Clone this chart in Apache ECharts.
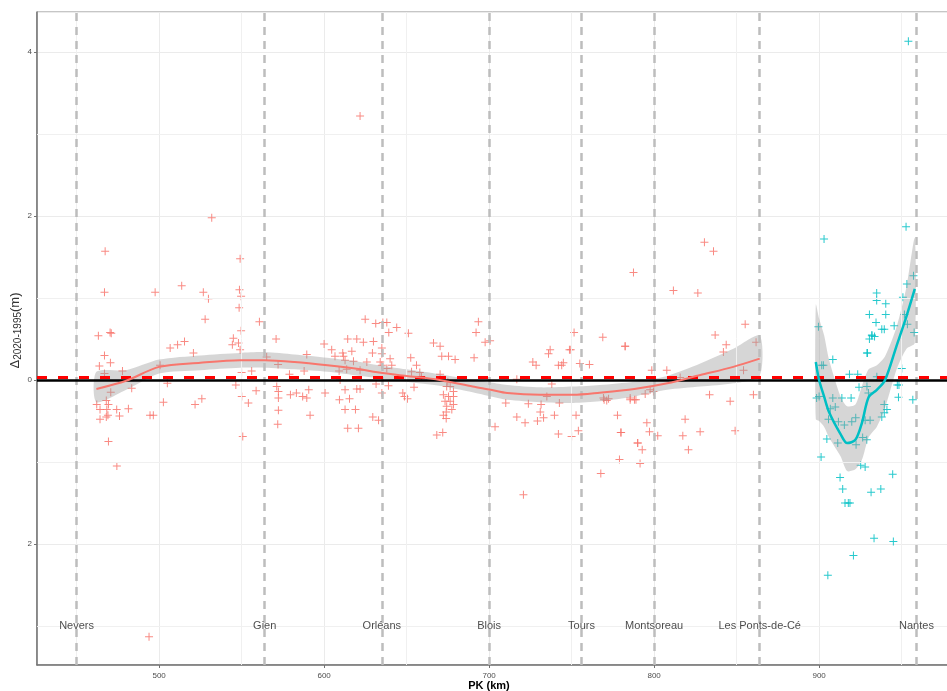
<!DOCTYPE html>
<html><head><meta charset="utf-8">
<script src="https://cdn.jsdelivr.net/npm/echarts@6/dist/echarts.min.js"></script>
<style>html,body{margin:0;padding:0;background:#fff}#c{width:947px;height:691px}</style>
</head><body><div id="c"></div>
<script>
// ---------- data ----------
const xTicks = [500, 600, 700, 800, 900];
const xMinorGrid = [450, 550, 650, 750, 850, 950];
const yTicks = [-2, 0, 2, 4];
const yTickLabels = ['2', '0', '2', '4'];
const yMinorGrid = [-3, -1, 1, 3];
const cities = ['Nevers', 'Gien', 'Orléans', 'Blois', 'Tours', 'Montsoreau', 'Les Ponts-de-Cé', 'Nantes'];
const cityPK = [450, 564, 635, 700, 756, 800, 864, 959];
const cityLabelY = -3;
const zeroLevel = 0;
const meanLevel = 0.03;

const redPoints = [
 [467.3,1.57],[466.9,1.07],[531.9,1.98],[549.1,1.48],[497.6,1.07],[513.7,1.15],[526.8,1.07],[529.9,0.99],[548.7,1.10],[549.7,1.02],[548.5,0.88],[527.9,0.74],[549.7,0.60],[560.8,0.71],[463.2,0.54],[470.3,0.58],[471,0.57],[466.9,0.30],[463.8,0.17],[470.5,0.21],[466.9,0.08],[477.8,0.11],[506.7,0.39],[511.2,0.43],[515.4,0.47],[520.8,0.33],[500.6,0.18],[545,0.51],[544.4,0.43],[548.1,0.45],[549.1,0.37],[570.9,0.50],[565.2,0.28],[572.1,0.19],[556.1,0.11],[550,0.09],[589.5,0.31],[600,0.44],[604.6,0.37],[606.6,0.29],[611.3,0.33],[614.3,0.50],[612.7,0.24],[587.9,0.11],[609.1,0.11],[579,0.07],
 [462.2,-0.30],[464.2,-0.36],[469.3,-0.30],[468.3,-0.36],[464.2,-0.48],[469,-0.43],[468,-0.45],[469.3,-0.75],[474.3,-0.36],[476,-0.44],[481.4,-0.35],[483.4,-0.10],[470.7,-0.15],[468,-0.25],[494.5,-0.43],[496.5,-0.43],[502.6,-0.27],[505,-0.04],[521.8,-0.30],[525.9,-0.23],[546.5,-0.06],[550.1,-0.2],[554.1,-0.28],[550.7,-0.69],[558.8,-0.13],[571.3,-0.08],[572.3,-0.14],[572.3,-0.22],[572.3,-0.37],[571.9,-0.54],[579.6,-0.18],[583.2,-0.16],[587,-0.2],[589.5,-0.22],[591.5,-0.43],[600.6,-0.16],[609.3,-0.24],[612.7,-0.12],[612.7,-0.36],[614.3,-0.59],[590.7,-0.12],[474.4,-1.05],[493.9,-3.13],[621.8,3.22],
 [624.9,0.74],[631.3,0.69],[635.6,0.70],[638,0.70],[639.2,0.58],[644,0.64],[651.1,0.57],[619.8,0.50],[623.8,0.46],[629.9,0.47],[616.8,0.35],[629.3,0.33],[635,0.39],[635,0.32],[640,0.26],[617.8,0.23],[625.9,0.22],[634,0.22],[635,0.18],[641,0.18],[638,0.14],[611.7,0.29],[613.7,0.13],[621.8,0.12],[652.5,0.27],[656,0.18],[653,0.10],[658,0.09],[659,0.04],[666.3,0.45],[670.3,0.41],[671.3,0.29],[675.4,0.29],[679.4,0.25],[690.9,0.27],[693.5,0.71],[692.1,0.58],[697.6,0.46],[700.6,0.48],[670.3,0.07],
 [674.3,-0.08],[676.4,-0.08],[678.4,-0.14],[672.3,-0.18],[675.4,-0.2],[678.4,-0.2],[673.3,-0.26],[676.4,-0.26],[674.3,-0.32],[678.4,-0.30],[674,-0.39],[677.4,-0.36],[672.3,-0.43],[674,-0.47],[668.3,-0.67],[671.9,-0.64],[675,-0.02],
 [619.8,-0.11],[621.8,-0.11],[615.4,-0.23],[631.5,-0.05],[635,-0.16],[639,-0.07],[647.7,-0.16],[648.7,-0.2],[650.5,-0.23],[654.5,-0.09],[619,-0.36],[629.5,-0.45],[633,-0.49],[620.8,-0.59],[609.7,0.0],
 [703.6,-0.57],[710.1,-0.28],[716.8,-0.45],[721.8,-0.52],[720.8,-1.40],[723.8,-0.29],[731.5,-0.3],[731,-0.39],[729.3,-0.5],[733,-0.46],[739.6,-0.43],[742,-0.66],[742.6,-0.28],[735,-0.2],[750,-0.69],[752.7,-0.43],[754.1,-0.62],[767.7,-1.14],[769.3,-0.22],[777.8,-0.43],[780,-0.64],[779,-0.97],[790.1,-0.77],[791.5,-1.02],[785.5,-0.22],[789,-0.24],[771.3,-0.25],
 [716.8,0.01],[726.5,0.22],[728.5,0.18],[736,0.32],[737,0.37],[742,0.18],[744,0.18],[745,0.21],[748.7,0.37],[749.5,0.37],[751.5,0.58],[755,0.2],[760.8,0.19],[768.9,0.52],[782.4,0.41],[738,-0.05],
 [787.5,1.31],[830.5,1.68],[836,1.57],[811.7,1.09],[826.5,1.06],[855.2,0.68],[782.5,0.41],[837,0.55],[843.7,0.43],[842,0.34],[861.8,0.46],[798.6,0.12],[807.7,0.12],[854.2,0.12],[815.8,0.03],[769.7,-0.24],[772.4,-0.23],[785.5,-0.24],[788.1,-0.24],[797.6,-0.12],[799.6,-0.14],[794.6,-0.17],[833.6,-0.18],[846.1,-0.26],[860.2,-0.18],[795.6,-0.52],[797.2,-0.63],[802.2,-0.68],[790,-0.77],[792.8,-0.85],[779.8,-0.64],[818.8,-0.48],[817.4,-0.68],[827.9,-0.63],[820.8,-0.85],[849.1,-0.62]
];

const cyanPoints = [
 [954.1,4.13],[903,1.72],[952.7,1.87],[957.2,1.27],[953.2,1.17],[950.8,1.01],[957.6,0.58],[934.9,1.06],[934.9,0.97],[940.4,0.93],[940.4,0.80],[930.5,0.80],[934.5,0.70],[938,0.62],[939.5,0.62],[945.5,0.66],[932,0.54],[933.6,0.53],[929.3,0.33],[951.7,0.80],[953.5,0.68],[899.6,0.65],[901.6,0.18],[902.6,0.18],[908.3,0.25],[918.4,0.07],[923.4,0.07],[950.1,0.14],[947.4,-0.06],[948.4,-0.06],[924.2,-0.09],[948.1,-0.21],[956.8,-0.24],[898.5,-0.22],[900,-0.20],[908.3,-0.22],[913.8,-0.22],[919.4,-0.22],[906.8,-0.35],[909.8,-0.33],[905.7,-0.48],[911.7,-0.51],[915.3,-0.55],[919.8,-0.51],[922.2,-0.46],[927.9,-0.49],[930.9,-0.49],[938,-0.45],[939.5,-0.40],[941.1,-0.36],[939.5,-0.30],[904.7,-0.72],[911.3,-0.77],[922.4,-0.79],[926.4,-0.70],[928.9,-0.73],[901.2,-0.94],[925.2,-1.04],[927.9,-1.06],[912.7,-1.19],[914.3,-1.33],[915.7,-1.50],[917.7,-1.50],[918.7,-1.50],[931.5,-1.37],[937.4,-1.33],[944.6,-1.15],[933.3,-1.93],[945,-1.97],[920.8,-2.14],[905.3,-2.38],[929,-0.08],[929.9,-0.16],[935,0.04],[930.5,0.5],[932,0.55],[929,0.33]
];

const redFitX   = [462, 480, 500, 525, 549, 564, 582, 602, 622, 630, 650, 670, 690, 701, 711, 731, 751, 767, 788, 808, 828, 848, 864];
const redFitY   = [-0.11, -0.01, 0.16, 0.21, 0.24, 0.24, 0.22, 0.18, 0.13, 0.10, 0.05, 0.0, -0.08, -0.12, -0.16, -0.18, -0.18, -0.155, -0.11, -0.04, 0.06, 0.16, 0.26];
const redFitLow = [-0.27, -0.12, 0.08, 0.12, 0.15, 0.15, 0.13, 0.10, 0.05, 0.03, -0.02, -0.07, -0.15, -0.20, -0.24, -0.27, -0.28, -0.26, -0.20, -0.12, -0.08, -0.04, 0.05];
const redFitUp  = [0.10, 0.12, 0.25, 0.30, 0.33, 0.34, 0.31, 0.27, 0.22, 0.19, 0.13, 0.07, 0.0, -0.03, -0.06, -0.09, -0.08, -0.06, -0.02, 0.05, 0.20, 0.38, 0.54];

const cyanFitX   = [898, 900, 903, 906, 913, 917, 922, 926, 930, 935, 940, 947, 953, 958];
const cyanFitY   = [0.22, 0.0, -0.2, -0.39, -0.66, -0.77, -0.73, -0.52, -0.21, -0.12, 0.0, 0.42, 0.78, 1.11];
const cyanFitUp  = [0.92, 0.75, 0.55, 0.25, -0.2, -0.32, -0.3, -0.07, 0.13, 0.18, 0.29, 0.65, 1.14, 1.73];
const cyanFitLow = [-0.48, -0.5, -0.57, -0.7, -0.93, -1.11, -1.09, -0.97, -0.7, -0.57, -0.34, 0.13, 0.38, 0.45];

// ---------- chart ----------
const RED = '#F8766D', CYAN = '#00BFC4';
const plus = 'path://M3.5,0h1v3.5h3.5v1h-3.5v3.5h-1v-3.5h-3.5v-1h3.5z';
const FONT = '"Liberation Sans", Arial, sans-serif';
const BAND = 'rgba(153,153,153,0.4)';

function pair(xs, ys) { return xs.map((x, i) => [x, ys[i]]); }

function bandSeries(xs, lo, up) {
  return {
    type: 'custom', silent: true, z: 4, clip: true,
    data: [[xs[0], lo[0]]],
    renderItem: function (params, api) {
      const top = xs.map((x, i) => api.coord([x, up[i]]));
      const bot = xs.map((x, i) => api.coord([x, lo[i]])).reverse();
      return {type: 'polygon', shape: {points: top.concat(bot), smooth: 0.25}, style: {fill: BAND, stroke: null}};
    }
  };
}

const chart = echarts.init(document.getElementById('c'), null, {renderer: 'canvas'});
const gridColor = '#ebebeb';

const option = {
  animation: false,
  grid: {left: 37, top: 12, width: 924, height: 653, show: true, borderColor: '#8c8c8c', borderWidth: 1,
         containLabel: false, outerBoundsMode: 'none'},
  xAxis: {
    type: 'value', min: 426, max: 986, minInterval: 100, maxInterval: 100,
    name: 'PK (km)', nameLocation: 'middle', nameGap: 15, nameMoveOverlap: false,
    nameTextStyle: {fontFamily: FONT, fontWeight: 'bold', fontSize: 11, color: '#000', padding: [0, 20, 0, 0]},
    axisLine: {show: true, onZero: false, lineStyle: {color: '#737373', width: 1.5}},
    axisTick: {show: true, length: 3, lineStyle: {color: '#737373'}},
    axisLabel: {showMinLabel: false, showMaxLabel: false, fontSize: 8, color: '#4d4d4d', margin: 7, fontFamily: FONT,
      formatter: v => xTicks.includes(v) ? String(v) : ''},
    splitLine: {show: true, lineStyle: {color: gridColor, width: 1}}
  },
  yAxis: {
    type: 'value', min: -3.476, max: 4.488, minInterval: 2, maxInterval: 2,
    name: '{a|Δ}{b|2020-1995}{a|(m)}', nameLocation: 'middle', nameGap: 14, nameMoveOverlap: false,
    nameTextStyle: {fontFamily: FONT, color: '#000', padding: [0, 0, 0, 16], rich: {
      a: {fontSize: 13, fontFamily: FONT, color: '#333', lineHeight: 16, verticalAlign: 'middle'},
      b: {fontSize: 10, fontFamily: FONT, color: '#333', lineHeight: 16, verticalAlign: 'bottom'}
    }},
    axisLine: {show: true, onZero: false, lineStyle: {color: '#737373', width: 1.5}},
    axisTick: {show: true, length: 3, lineStyle: {color: '#737373'}},
    axisLabel: {showMinLabel: false, showMaxLabel: false, fontSize: 8, color: '#4d4d4d', margin: 5, fontFamily: FONT,
      formatter: v => { const i = yTicks.indexOf(v); return i >= 0 ? yTickLabels[i] : ''; }},
    splitLine: {show: true, lineStyle: {color: gridColor, width: 1}}
  },
  series: [
    { // minor grid lines
      type: 'scatter', data: [], z: 1, silent: true,
      markLine: {silent: true, symbol: 'none', label: {show: false}, animation: false,
        lineStyle: {color: '#f0f0f0', width: 1, type: 'solid'},
        data: xMinorGrid.map(v => ({xAxis: v})).concat(yMinorGrid.map(v => ({yAxis: v})))}
    },
    { // city dashed verticals
      type: 'scatter', data: [], z: 2, silent: true,
      markLine: {silent: true, symbol: 'none', label: {show: false}, animation: false,
        lineStyle: {color: '#bdbdbd', width: 2.5, type: [8, 6]},
        data: cityPK.map(v => ({xAxis: v}))}
    },
    { type: 'scatter', name: 'amont', data: redPoints, symbol: plus, symbolSize: 8, z: 3, silent: true,
      itemStyle: {color: RED, opacity: 0.85} },
    { type: 'scatter', name: 'aval', data: cyanPoints, symbol: plus, symbolSize: 8, z: 3, silent: true,
      itemStyle: {color: CYAN, opacity: 0.85} },
    bandSeries(redFitX, redFitLow, redFitUp),
    bandSeries(cyanFitX, cyanFitLow, cyanFitUp),
    { type: 'line', data: pair(redFitX, redFitY), symbol: 'none', smooth: 0.3, z: 5, silent: true,
      lineStyle: {color: RED, width: 2} },
    { type: 'line', data: pair(cyanFitX, cyanFitY), symbol: 'none', smooth: 0.3, z: 5, silent: true,
      lineStyle: {color: CYAN, width: 2.5} },
    { // horizontal reference lines
      type: 'scatter', data: [], z: 6, silent: true,
      markLine: {silent: true, symbol: 'none', label: {show: false}, animation: false,
        data: [
          {yAxis: zeroLevel, lineStyle: {color: '#000', width: 2.5, type: 'solid'}},
          {yAxis: meanLevel, lineStyle: {color: '#ff0000', width: 3, type: [10, 11]}}
        ]}
    },
    { // city labels
      type: 'scatter', data: cityPK.map((x, i) => ({value: [x, cityLabelY], name: cities[i]})),
      symbolSize: 0, z: 7, silent: true,
      label: {show: true, position: 'inside', formatter: '{b}', fontSize: 11, color: '#1a1a1a', fontFamily: FONT}
    }
  ]
};
chart.setOption(option);
</script>
</body></html>
